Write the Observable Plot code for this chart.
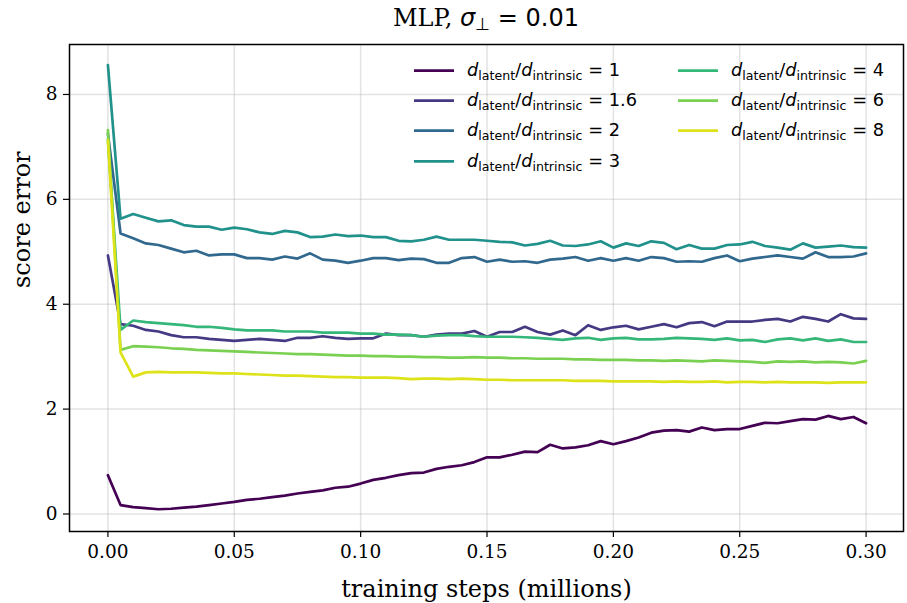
<!DOCTYPE html>
<html>
<head>
<meta charset="utf-8">
<script src="https://cdn.jsdelivr.net/npm/d3@7"></script>
<script src="https://cdn.jsdelivr.net/npm/@observablehq/plot@0.6"></script>
<style>
  html, body { margin: 0; padding: 0; background: white; }
  #chart { width: 907px; height: 603px; }
</style>
</head>
<body>
<div id="chart"></div>
<script>
// ---- data ----
const steps = [0.000,0.005,0.010,0.015,0.020,0.025,0.030,0.035,0.040,0.045,
  0.050,0.055,0.060,0.065,0.070,0.075,0.080,0.085,0.090,0.095,
  0.100,0.105,0.110,0.115,0.120,0.125,0.130,0.135,0.140,0.145,
  0.150,0.155,0.160,0.165,0.170,0.175,0.180,0.185,0.190,0.195,
  0.200,0.205,0.210,0.215,0.220,0.225,0.230,0.235,0.240,0.245,
  0.250,0.255,0.260,0.265,0.270,0.275,0.280,0.285,0.290,0.295,0.300];

const ratios = ["1", "1.6", "2", "3", "4", "6", "8"];
const colors = ["#440154", "#443a83", "#31688e", "#21918c", "#35b779", "#7ad151", "#dde318"];

const err_1 = [0.74,0.17,0.13,0.11,0.09,0.10,0.12,0.14,0.17,0.20,0.23,0.27,0.29,0.32,0.35,0.39,0.42,0.45,0.50,0.52,0.58,
  0.65,0.69,0.74,0.78,0.79,0.86,0.90,0.93,0.99,1.08,1.08,1.13,1.19,1.18,1.32,1.25,1.27,1.31,1.39,1.33,
  1.39,1.46,1.55,1.59,1.60,1.57,1.65,1.60,1.62,1.62,1.68,1.74,1.73,1.77,1.81,1.80,1.87,1.81,1.85,1.73];
const err_1_6 = [4.93,3.62,3.59,3.51,3.48,3.41,3.37,3.37,3.34,3.32,3.30,3.32,3.34,3.32,3.30,3.36,3.36,3.39,3.36,3.34,3.35,
  3.35,3.44,3.41,3.41,3.38,3.42,3.44,3.44,3.49,3.38,3.47,3.47,3.57,3.47,3.42,3.50,3.41,3.60,3.51,3.56,
  3.59,3.52,3.57,3.62,3.56,3.64,3.66,3.58,3.67,3.67,3.67,3.70,3.72,3.67,3.76,3.72,3.67,3.81,3.73,3.72];
const err_2 = [7.25,5.35,5.26,5.16,5.13,5.06,4.99,5.02,4.93,4.95,4.95,4.88,4.88,4.85,4.91,4.87,4.97,4.85,4.83,4.79,4.83,
  4.88,4.88,4.84,4.87,4.86,4.79,4.79,4.88,4.90,4.81,4.85,4.81,4.82,4.79,4.85,4.87,4.90,4.83,4.88,4.83,
  4.88,4.83,4.90,4.88,4.81,4.82,4.81,4.88,4.93,4.82,4.87,4.90,4.93,4.90,4.87,4.99,4.90,4.90,4.91,4.97];
const err_3 = [8.56,5.63,5.72,5.65,5.58,5.60,5.51,5.48,5.48,5.42,5.46,5.43,5.37,5.34,5.40,5.37,5.28,5.29,5.33,5.30,5.31,
  5.28,5.28,5.21,5.20,5.23,5.29,5.23,5.23,5.23,5.21,5.19,5.18,5.12,5.15,5.21,5.12,5.11,5.14,5.20,5.08,
  5.16,5.11,5.20,5.17,5.05,5.13,5.06,5.06,5.13,5.14,5.19,5.11,5.08,5.04,5.16,5.08,5.10,5.12,5.09,5.08];
const err_4 = [7.15,3.51,3.69,3.66,3.64,3.62,3.60,3.57,3.57,3.55,3.52,3.50,3.50,3.50,3.48,3.48,3.48,3.46,3.46,3.46,3.44,
  3.44,3.42,3.42,3.41,3.38,3.40,3.41,3.41,3.39,3.38,3.38,3.38,3.37,3.36,3.34,3.32,3.35,3.36,3.32,3.35,
  3.36,3.33,3.33,3.34,3.36,3.35,3.34,3.32,3.35,3.31,3.32,3.28,3.33,3.35,3.31,3.35,3.30,3.33,3.28,3.28];
const err_6 = [7.32,3.13,3.20,3.19,3.18,3.16,3.15,3.13,3.12,3.11,3.10,3.09,3.08,3.07,3.06,3.05,3.05,3.04,3.03,3.02,3.02,
  3.01,3.01,3.00,3.00,2.99,2.99,2.98,2.98,2.99,2.98,2.98,2.97,2.97,2.96,2.96,2.96,2.95,2.95,2.94,2.94,
  2.94,2.93,2.93,2.92,2.93,2.92,2.91,2.93,2.92,2.91,2.90,2.88,2.91,2.90,2.91,2.89,2.90,2.89,2.87,2.92];
const err_8 = [7.13,3.08,2.62,2.70,2.71,2.70,2.70,2.70,2.69,2.68,2.68,2.67,2.66,2.65,2.64,2.64,2.63,2.62,2.61,2.61,2.60,
  2.60,2.60,2.59,2.57,2.58,2.58,2.57,2.58,2.57,2.56,2.56,2.55,2.55,2.55,2.55,2.55,2.54,2.54,2.54,2.53,
  2.53,2.53,2.53,2.52,2.53,2.52,2.52,2.53,2.51,2.52,2.52,2.51,2.52,2.51,2.51,2.51,2.50,2.51,2.51,2.51];

const xTicks = [0.00, 0.05, 0.10, 0.15, 0.20, 0.25, 0.30];
const yTicks = [0, 2, 4, 6, 8];
const xLabel = "training steps (millions)";
const yLabel = "score error";

// ---- build table ----
const seriesList = [err_1, err_1_6, err_2, err_3, err_4, err_6, err_8];
const rows = [];
seriesList.forEach((vals, k) => {
  vals.forEach((v, i) => rows.push({ratio: ratios[k], step: steps[i], error: v}));
});

const W = 907, H = 603;
const svg = Plot.plot({
  width: W, height: H,
  marginLeft: 69, marginRight: 4, marginTop: 44, marginBottom: 72,
  style: {fontFamily: "'DejaVu Serif', serif", fontSize: "18px", background: "white", color: "black", overflow: "visible"},
  x: {domain: [-0.0152, 0.3148]},
  y: {domain: [-0.334, 8.953]},
  color: {type: "ordinal", domain: ratios, range: colors},
  marks: [
    Plot.gridX(xTicks, {stroke: "#b0b0b0", strokeOpacity: 0.35, strokeWidth: 1.5}),
    Plot.gridY(yTicks, {stroke: "#b0b0b0", strokeOpacity: 0.35, strokeWidth: 1.5}),
    Plot.line(rows, {x: "step", y: "error", z: "ratio", stroke: "ratio", strokeWidth: 2.7, strokeLinejoin: "round"}),
    Plot.frame({stroke: "black", strokeWidth: 1.5}),
    Plot.axisX(xTicks, {tickFormat: d => d.toFixed(2), tickSize: 6, tickPadding: 7, label: null, fontSize: 18.5, stroke: "black", strokeWidth: 1.2}),
    Plot.axisY(yTicks, {tickFormat: d => String(d), tickSize: 6, tickPadding: 6, label: null, fontSize: 18.5, stroke: "black", strokeWidth: 1.2}),
    Plot.text([xLabel], {frameAnchor: "bottom", dy: 65, fontSize: 24}),
    Plot.text([yLabel], {frameAnchor: "left", dx: -47, rotate: -90, fontSize: 24})
  ]
});

const s = d3.select(svg);

// ---- title ----
const t = s.append("text")
  .attr("x", 486).attr("y", 26)
  .attr("text-anchor", "middle")
  .attr("font-size", 24)
  .attr("fill", "black");
t.append("tspan").attr("font-family", "'DejaVu Serif', serif").text("MLP, ");
t.append("tspan").attr("font-family", "'DejaVu Sans', sans-serif").attr("font-style", "italic").text("σ");
t.append("tspan").attr("font-family", "'DejaVu Sans', sans-serif").attr("font-size", 17).attr("dy", 4).text("⊥");
t.append("tspan").attr("font-family", "'DejaVu Sans', sans-serif").attr("dy", -4).text(" = 0.01");

// ---- legend ----
const legendPos = [
  {x: 414, y: 70.7}, {x: 414, y: 100.7}, {x: 414, y: 130.7}, {x: 414, y: 161.3},
  {x: 678, y: 70.7}, {x: 678, y: 100.7}, {x: 678, y: 130.7}
];
const lg = s.append("g").attr("font-family", "'DejaVu Sans', sans-serif").attr("font-size", 17.8)
  .attr("fill", "black").attr("text-anchor", "start");
ratios.forEach((r, k) => {
  const p = legendPos[k];
  lg.append("line").attr("x1", p.x).attr("x2", p.x + 40).attr("y1", p.y).attr("y2", p.y)
    .attr("stroke", colors[k]).attr("stroke-width", 2.7);
  const tx = lg.append("text").attr("x", p.x + 53).attr("y", p.y + 5.5).attr("text-anchor", "start");
  tx.append("tspan").attr("font-style", "italic").text("d");
  tx.append("tspan").attr("font-size", 12.6).attr("dy", 4).text("latent");
  tx.append("tspan").attr("dy", -4).text("/");
  tx.append("tspan").attr("font-style", "italic").text("d");
  tx.append("tspan").attr("font-size", 12.6).attr("dy", 4).text("intrinsic");
  tx.append("tspan").attr("dy", -4).text(" = " + r);
});

document.getElementById("chart").appendChild(svg);
</script>
</body>
</html>
